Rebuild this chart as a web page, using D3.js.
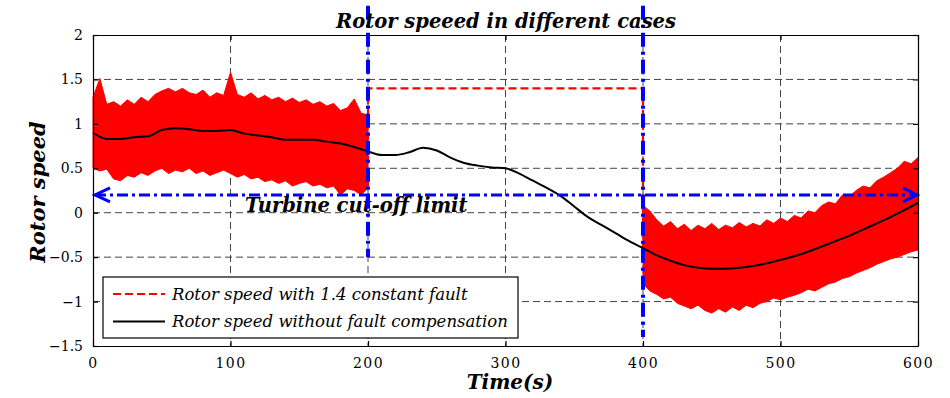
<!DOCTYPE html>
<html lang="en">
<head>
<meta charset="UTF-8">
<title>Rotor speed in different cases</title>
<script src="https://d3js.org/d3.v7.min.js"></script>
<style>
    body { margin: 0; background: #fff; }
    .tick text { font-family: "DejaVu Serif", serif; font-size: 14px; fill: #000; }
    .xax .tick text { letter-spacing: 1.5px; }
    .bi { font-family: "DejaVu Serif", serif; font-weight: bold; font-style: italic; fill: #000; }
    .leg { font-family: "DejaVu Serif", serif; font-style: italic; font-size: 16.5px; fill: #000; }
</style>
</head>
<body>
<script>
    // ---- data ----
    // time axis ticks and speed axis ticks
    var xTicks = [0, 100, 200, 300, 400, 500, 600];
    var yTicks = [-1.5, -1, -0.5, 0, 0.5, 1, 1.5, 2];

    // rotor speed without fault compensation (black)
    var nominalT = [0, 10, 20, 30, 40, 50, 60, 70, 80, 90, 100, 110, 120, 130, 140, 150, 160, 170, 180, 190,
        200, 210, 220, 230, 240, 250, 260, 270, 280, 290, 300, 310, 320, 330, 340, 350, 360, 370, 380, 390,
        400, 410, 420, 430, 440, 450, 460, 470, 480, 490, 500, 510, 520, 530, 540, 550, 560, 570, 580, 590, 600];
    var nominalV = [0.90, 0.83, 0.83, 0.85, 0.86, 0.93, 0.95, 0.94, 0.92, 0.92, 0.93, 0.89, 0.87, 0.85, 0.82, 0.82, 0.82, 0.80, 0.78, 0.74,
        0.69, 0.65, 0.65, 0.68, 0.73, 0.70, 0.62, 0.56, 0.53, 0.51, 0.50, 0.44, 0.36, 0.28, 0.19, 0.07, -0.05, -0.14, -0.23, -0.32,
        -0.40, -0.48, -0.54, -0.59, -0.62, -0.63, -0.63, -0.62, -0.60, -0.57, -0.53, -0.49, -0.44, -0.38, -0.32, -0.26, -0.19, -0.12, -0.05, 0.03, 0.11];

    // noisy red signal, envelope of the band (0-200 s)
    var bandAT = [0, 5, 10, 15, 20, 25, 30, 35, 40, 45, 50, 55, 60, 65, 70, 75, 80, 85, 90, 95, 100,
        105, 110, 115, 120, 125, 130, 135, 140, 145, 150, 155, 160, 165, 170, 175, 180, 185, 190, 195, 200];
    var bandAHi = [1.30, 1.51, 1.22, 1.25, 1.20, 1.27, 1.22, 1.30, 1.25, 1.33, 1.37, 1.40, 1.36, 1.40, 1.35, 1.33, 1.38, 1.30, 1.35, 1.32, 1.58,
        1.33, 1.30, 1.35, 1.28, 1.32, 1.27, 1.30, 1.25, 1.29, 1.24, 1.27, 1.22, 1.25, 1.20, 1.23, 1.15, 1.18, 1.28, 1.12, 1.10];
    var bandALo = [0.50, 0.47, 0.49, 0.38, 0.36, 0.42, 0.40, 0.45, 0.42, 0.47, 0.50, 0.44, 0.48, 0.46, 0.50, 0.44, 0.47, 0.42, 0.45, 0.48, 0.44,
        0.40, 0.43, 0.38, 0.40, 0.35, 0.37, 0.33, 0.36, 0.30, 0.33, 0.35, 0.30, 0.32, 0.28, 0.30, 0.20, 0.27, 0.25, 0.20, 0.28];

    // noisy red signal, envelope of the band (400-600 s)
    var bandBT = [400, 405, 410, 415, 420, 425, 430, 435, 440, 445, 450, 455, 460, 465, 470, 475, 480, 485, 490, 495, 500,
        505, 510, 515, 520, 525, 530, 535, 540, 545, 550, 555, 560, 565, 570, 575, 580, 585, 590, 595, 600];
    var bandBHi = [0.08, 0.02, -0.08, -0.15, -0.10, -0.18, -0.13, -0.20, -0.14, -0.18, -0.12, -0.19, -0.14, -0.17, -0.11, -0.16, -0.12, -0.15, -0.08, -0.12, -0.06,
        -0.10, -0.03, -0.06, 0.02, 0.00, 0.08, 0.12, 0.10, 0.20, 0.18, 0.25, 0.30, 0.28, 0.36, 0.40, 0.45, 0.50, 0.58, 0.55, 0.62];
    var bandBLo = [-0.80, -0.88, -0.92, -0.97, -0.95, -1.02, -1.05, -1.08, -1.04, -1.10, -1.13, -1.08, -1.12, -1.06, -1.10, -1.04, -1.07, -1.02, -1.00, -0.96, -0.98,
        -0.95, -0.93, -0.90, -0.86, -0.88, -0.84, -0.80, -0.78, -0.74, -0.72, -0.68, -0.65, -0.62, -0.58, -0.55, -0.52, -0.50, -0.47, -0.44, -0.42];

    // constant 1.4 fault between 200 and 400 s (red dashed)
    var faultT = [200, 200, 400, 400];
    var faultV = [0.28, 1.4, 1.4, -0.42];

    // fault instants (blue dash-dot verticals) and turbine cut-off limit
    var faultInstants = [200, 400];
    var faultLineTop = [2.33, 2.33];
    var faultLineBottom = [-0.5, -1.4];
    var cutoff = 0.2;

    var legendLabels = ["Rotor speed with 1.4 constant fault", "Rotor speed without fault compensation"];

    // ---- layout ----
    var margin = { top: 35, right: 32, bottom: 52, left: 93 };
    var W = 950, H = 398;
    var width = W - margin.left - margin.right;
    var height = H - margin.top - margin.bottom;

    var svg = d3.select("body").append("svg")
        .attr("width", W)
        .attr("height", H);

    var g = svg.append("g")
        .attr("transform", "translate(" + margin.left + "," + margin.top + ")");

    var x = d3.scaleLinear().domain([0, 600]).range([0, width]);
    var y = d3.scaleLinear().domain([-1.5, 2]).range([height, 0]);

    // grid
    g.selectAll(".vgrid").data(xTicks.slice(1, -1)).enter().append("line")
        .attr("x1", d => x(d)).attr("x2", d => x(d))
        .attr("y1", 0).attr("y2", height)
        .attr("stroke", "#444").attr("stroke-width", 1)
        .attr("stroke-dasharray", "7,4");
    g.selectAll(".hgrid").data(yTicks.slice(1, -1)).enter().append("line")
        .attr("x1", 0).attr("x2", width)
        .attr("y1", d => y(d)).attr("y2", d => y(d))
        .attr("stroke", "#444").attr("stroke-width", 1)
        .attr("stroke-dasharray", "7,4");

    // red noisy band
    function band(ts, hi, lo) {
        var pts = ts.map((t, i) => ({ t: t, hi: hi[i], lo: lo[i] }));
        var area = d3.area()
            .x(d => x(d.t))
            .y0(d => y(d.lo))
            .y1(d => y(d.hi));
        g.append("path")
            .datum(pts)
            .attr("d", area)
            .attr("fill", "#ff0000")
            .attr("stroke", "#ff0000")
            .attr("stroke-width", 1);
    }
    band(bandAT, bandAHi, bandALo);
    band(bandBT, bandBHi, bandBLo);

    // constant fault, red dashed
    var line = d3.line().x(d => x(d[0])).y(d => y(d[1]));
    g.append("path")
        .datum(faultT.map((t, i) => [t, faultV[i]]))
        .attr("d", line)
        .attr("fill", "none")
        .attr("stroke", "#ff0000")
        .attr("stroke-width", 2.2)
        .attr("stroke-dasharray", "8,4");

    // nominal black curve
    g.append("path")
        .datum(nominalT.map((t, i) => [t, nominalV[i]]))
        .attr("d", line.curve(d3.curveMonotoneX))
        .attr("fill", "none")
        .attr("stroke", "#000")
        .attr("stroke-width", 2);

    // turbine cut-off line with arrows on both ends
    var blue = "#0000ff";
    g.append("line")
        .attr("x1", x(0) + 2).attr("x2", x(600) - 2)
        .attr("y1", y(cutoff)).attr("y2", y(cutoff))
        .attr("stroke", blue).attr("stroke-width", 3)
        .attr("stroke-dasharray", "11,4,3,4");
    g.append("path")
        .attr("d", "M" + (x(0) + 17) + "," + (y(cutoff) - 7) + "L" + (x(0) + 2) + "," + y(cutoff) + "L" + (x(0) + 17) + "," + (y(cutoff) + 7))
        .attr("fill", "none").attr("stroke", blue).attr("stroke-width", 3);
    g.append("path")
        .attr("d", "M" + (x(600) - 15) + "," + (y(cutoff) - 7) + "L" + (x(600) - 1) + "," + y(cutoff) + "L" + (x(600) - 15) + "," + (y(cutoff) + 7))
        .attr("fill", "none").attr("stroke", blue).attr("stroke-width", 3);

    g.append("text")
        .attr("class", "bi")
        .attr("x", 152)
        .attr("y", y(cutoff) + 17)
        .style("font-size", "19.5px")
        .text("Turbine cut-off limit");

    // axes, MATLAB style box with inward ticks
    var fmt = d => d3.format("")(d);
    g.append("g")
        .attr("class", "xax")
        .attr("transform", "translate(0," + height + ")")
        .call(d3.axisBottom(x).tickValues(xTicks).tickFormat(fmt).tickSize(-5).tickSizeOuter(0).tickPadding(12));
    g.append("g")
        .call(d3.axisLeft(y).tickValues(yTicks).tickFormat(fmt).tickSize(-5).tickSizeOuter(0).tickPadding(10));
    g.append("g")
        .call(d3.axisTop(x).tickValues(xTicks).tickFormat("").tickSize(-5).tickSizeOuter(0));
    g.append("g")
        .attr("transform", "translate(" + width + ",0)")
        .call(d3.axisRight(y).tickValues(yTicks).tickFormat("").tickSize(-5).tickSizeOuter(0));
    g.selectAll(".domain, .tick line").attr("stroke", "#000").attr("stroke-width", 1.2);

    // legend
    var lg = g.append("g").attr("transform", "translate(10,242)");
    lg.append("rect")
        .attr("width", 415).attr("height", 61)
        .attr("fill", "#fff").attr("stroke", "#000").attr("stroke-width", 1.2);
    var rows = lg.selectAll(".row").data(legendLabels).enter().append("g")
        .attr("transform", (d, i) => "translate(0," + (17 + i * 27.5) + ")");
    rows.append("line")
        .attr("x1", 10).attr("x2", 62)
        .attr("stroke", (d, i) => i === 0 ? "#ff0000" : "#000")
        .attr("stroke-width", 2.2)
        .attr("stroke-dasharray", (d, i) => i === 0 ? "8,4" : null);
    rows.append("text")
        .attr("class", "leg")
        .attr("x", 69)
        .attr("dy", "0.35em")
        .text(d => d);

    // titles
    svg.append("text")
        .attr("class", "bi")
        .attr("x", 506).attr("y", 28)
        .attr("text-anchor", "middle")
        .style("font-size", "19.5px")
        .text("Rotor speeed in different cases");
    svg.append("text")
        .attr("class", "bi")
        .attr("x", 510).attr("y", 389)
        .attr("text-anchor", "middle")
        .style("font-size", "20px")
        .text("Time(s)");
    svg.append("text")
        .attr("class", "bi")
        .attr("transform", "translate(45,192) rotate(-90)")
        .attr("text-anchor", "middle")
        .style("font-size", "21px")
        .text("Rotor speed");

    // fault instants, blue dash-dot verticals drawn on top
    g.selectAll(".fault").data(faultInstants).enter().append("line")
        .attr("x1", d => x(d)).attr("x2", d => x(d))
        .attr("y1", (d, i) => y(faultLineTop[i]))
        .attr("y2", (d, i) => y(faultLineBottom[i]))
        .attr("stroke", blue).attr("stroke-width", 4)
        .attr("stroke-dasharray", "14,5,3,5");
</script>
</body>
</html>
